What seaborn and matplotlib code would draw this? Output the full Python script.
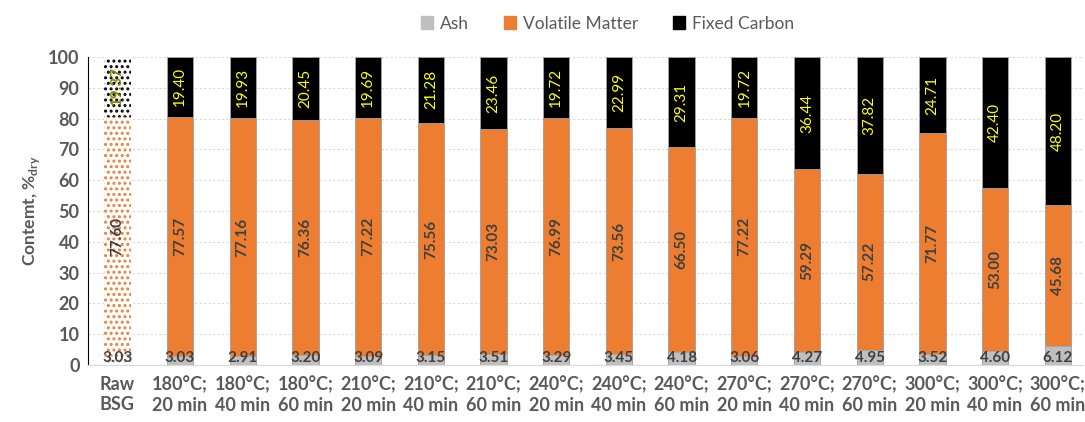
import numpy as np
import pandas as pd
import matplotlib.pyplot as plt
import seaborn as sns
from matplotlib.patches import Patch

samples = ["Raw\nBSG", "180°C;\n20 min", "180°C;\n40 min", "180°C;\n60 min",
           "210°C;\n20 min", "210°C;\n40 min", "210°C;\n60 min",
           "240°C;\n20 min", "240°C;\n40 min", "240°C;\n60 min",
           "270°C;\n20 min", "270°C;\n40 min", "270°C;\n60 min",
           "300°C;\n20 min", "300°C;\n40 min", "300°C;\n60 min"]
ash = [3.03, 3.03, 2.91, 3.20, 3.09, 3.15, 3.51, 3.29, 3.45, 4.18, 3.06, 4.27, 4.95, 3.52, 4.60, 6.12]
volatile = [77.60, 77.57, 77.16, 76.36, 77.22, 75.56, 73.03, 76.99, 73.56, 66.50, 77.22, 59.29, 57.22, 71.77, 53.00, 45.68]
fixed_carbon = [19.37, 19.40, 19.93, 20.45, 19.69, 21.28, 23.46, 19.72, 22.99, 29.31, 19.72, 36.44, 37.82, 24.71, 42.40, 48.20]

df = pd.DataFrame({"sample": samples, "ash": ash, "vm": volatile, "fc": fixed_carbon})
df["ash_vm"] = df["ash"] + df["vm"]
df["total"] = df["ash_vm"] + df["fc"]

sns.set_style("white")
plt.rcParams["font.family"] = ["Lato", "DejaVu Sans"]
plt.rcParams["hatch.linewidth"] = 1.4

c_ash = "#bfbfbf"
c_vm = "#ed7d31"
c_fc = "#000000"
txt = "#404040"

fig = plt.figure(figsize=(10.85, 4.22), dpi=100)
ax = fig.add_axes([0.081, 0.135, 0.917, 0.73])

w = 0.42
# overlaid bars build the stack: total -> fc, ash+vm -> vm, ash
sns.barplot(data=df, x="sample", y="total", color=c_fc, width=w, ax=ax,
            edgecolor="#a6a6a6", linewidth=0.6, saturation=1)
sns.barplot(data=df, x="sample", y="ash_vm", color=c_vm, width=w, ax=ax,
            edgecolor="#a6a6a6", linewidth=0.6, saturation=1)
sns.barplot(data=df, x="sample", y="ash", color=c_ash, width=w, ax=ax,
            edgecolor="#a6a6a6", linewidth=0.6, saturation=1)

n = len(samples)
patches = ax.patches
# raw BSG drawn as dotted pattern
for k, col in zip(range(3), [c_fc, c_vm, c_ash]):
    p = patches[k * n]
    p.set_facecolor("white")
    p.set_hatch("...")
    p.set_edgecolor(col)
    p.set_linewidth(0)

for i in range(n):
    ax.text(i, 0.1, f"{ash[i]:.2f}", ha="center", va="bottom", fontsize=11,
            fontweight="bold", color=txt)
    ax.text(i, ash[i] + volatile[i] / 2, f"{volatile[i]:.2f}", ha="center", va="center",
            rotation=90, fontsize=11, fontweight="bold", color=txt)
    fc_col = "#8a8a00" if i == 0 else "#ffff00"
    ax.text(i, ash[i] + volatile[i] + fixed_carbon[i] / 2, f"{fixed_carbon[i]:.2f}",
            ha="center", va="center", rotation=90, fontsize=11, color=fc_col,
            fontweight="bold" if i == 0 else "normal")

ax.set_ylim(0, 100)
ax.set_xlim(-0.47, n - 0.6)
ax.set_yticks(range(0, 101, 10))
ax.set_yticks(range(0, 101, 2), minor=True)
ax.tick_params(axis="y", which="major", length=8, width=1, direction="inout", color="black",
               labelsize=13, labelcolor="#595959", pad=2)
ax.tick_params(axis="y", which="minor", length=4, width=0.8, direction="in", color="black")
ax.tick_params(axis="x", length=0, labelsize=13, labelcolor="#595959", pad=8)
for lab in ax.get_yticklabels() + ax.get_xticklabels():
    lab.set_fontweight("bold")
ax.yaxis.grid(True, which="major", linestyle=(0, (2, 2)), color="#d9d9d9", linewidth=0.8)
ax.set_axisbelow(True)
for s in ["top", "right"]:
    ax.spines[s].set_visible(False)
ax.spines["left"].set_color("black")
ax.spines["bottom"].set_color("#d9d9d9")
ax.set_xlabel("")
ax.set_ylabel("Contemt, %$_{\\mathregular{dry}}$", fontsize=12.5, fontweight="bold", color="#595959")

handles = [Patch(color=c_ash, label="Ash"), Patch(color=c_vm, label="Volatile Matter"),
           Patch(color=c_fc, label="Fixed Carbon")]
fig.legend(handles=handles, loc="upper center", bbox_to_anchor=(0.56, 1.0), ncol=3, frameon=False,
           fontsize=12.5, handlelength=0.7, handleheight=0.7, columnspacing=2.0, handletextpad=0.4,
           labelcolor="#595959")

fig.savefig("out.png", dpi=100)
